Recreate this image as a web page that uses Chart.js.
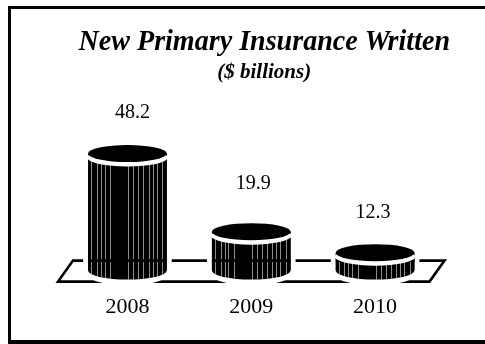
<!DOCTYPE html>
<html>
<head>
<meta charset="utf-8">
<script src="https://cdn.jsdelivr.net/npm/chart.js@4/dist/chart.umd.min.js"></script>
<style>
  html, body { margin: 0; padding: 0; background: #fff; overflow: hidden; }
  #page { position: relative; width: 485px; height: 344px; }
  #frame { position: absolute; left: 8px; top: 6px; right: 0; bottom: 0;
           border: solid #000; border-width: 3px 0 4px 3px; }
  canvas { position: absolute; left: 0; top: 0; }
</style>
</head>
<body>
<div id="page">
  <div id="frame"></div>
  <canvas id="chart" width="485" height="344"></canvas>
</div>
<script>
const categories = ['2008', '2009', '2010'];
const premiumWritten = [48.2, 19.9, 12.3];
const valueLabels = ['48.2', '19.9', '12.3'];
const titleText = 'New Primary Insurance Written';
const subtitleText = '($ billions)';

// The value axis starts above zero, as the cylinders rise from a raised floor.
const axisFloor = 5.8;
const axisCeiling = 70;

const SERIF = '"Liberation Serif", "Times New Roman", serif';
const RIB_STOPS = [0.04, 0.11, 0.16, 0.21, 0.28, 0.51, 0.57, 0.64, 0.70, 0.77, 0.82, 0.87, 0.94];
const LABEL_LIFT = [41, 48, 40];
const LABEL_SHIFT = [5, 2, -2];

function platformPath(ctx, area, baseY) {
  const slant = 7.5, up = 10, down = 11;
  ctx.beginPath();
  ctx.moveTo(area.left + slant, baseY - up);
  ctx.lineTo(area.right + slant, baseY - up);
  ctx.lineTo(area.right - slant, baseY + down);
  ctx.lineTo(area.left - slant, baseY + down);
  ctx.closePath();
}

const cylinders = {
  id: 'cylinders',
  afterLayout(chart) {
    // Centre both headings over the drawing rather than over the canvas.
    for (const box of chart.boxes) {
      if (box.options && box.options.text) { box.left += 13; box.right += 13; }
    }
  },
  beforeDatasetsDraw(chart) {
    const { ctx, chartArea, scales } = chart;
    const baseY = scales.y.getPixelForValue(axisFloor);
    ctx.save();
    ctx.strokeStyle = '#000';
    ctx.lineWidth = 2.6;
    ctx.lineJoin = 'miter';
    platformPath(ctx, chartArea, baseY);
    ctx.stroke();
    // White halo that separates each cylinder from the platform outline.
    ctx.fillStyle = '#fff';
    chart.getDatasetMeta(0).data.forEach((bar) => {
      const half = bar.width / 2 + 5;
      ctx.fillRect(bar.x - half, bar.y, half * 2, baseY - bar.y);
      ctx.beginPath();
      ctx.ellipse(bar.x, baseY, half, 15, 0, 0, Math.PI * 2);
      ctx.fill();
    });
    ctx.restore();
  },
  afterDatasetsDraw(chart) {
    const { ctx, chartArea, scales } = chart;
    const baseY = scales.y.getPixelForValue(axisFloor);
    chart.getDatasetMeta(0).data.forEach((bar, i) => {
      const half = bar.width / 2;
      const left = bar.x - half;

      ctx.save();
      ctx.beginPath();
      ctx.ellipse(bar.x, baseY, half, 9, 0, 0, Math.PI);
      ctx.lineTo(left, bar.y);
      ctx.lineTo(left + bar.width, bar.y);
      ctx.closePath();
      ctx.fillStyle = '#000';
      ctx.fill();
      ctx.clip();

      // Vertical ribs, crowded towards the edges of the drum.
      ctx.strokeStyle = 'rgba(255,255,255,0.55)';
      ctx.lineWidth = 1;
      RIB_STOPS.forEach((stop) => {
        const x = Math.round(left + stop * bar.width) + 0.5;
        ctx.beginPath();
        ctx.moveTo(x, bar.y);
        ctx.lineTo(x, baseY + 10);
        ctx.stroke();
      });

      // The platform's back edge stays visible across the ribs.
      ctx.strokeStyle = '#000';
      ctx.lineWidth = 2.6;
      platformPath(ctx, chartArea, baseY);
      ctx.stroke();
      ctx.restore();

      // Lid with its white rim.
      ctx.save();
      ctx.fillStyle = '#fff';
      ctx.beginPath();
      ctx.ellipse(bar.x, bar.y + 4, half + 1, 9, 0, 0, Math.PI * 2);
      ctx.fill();
      ctx.fillStyle = '#000';
      ctx.beginPath();
      ctx.ellipse(bar.x, bar.y, half, 8.5, 0, 0, Math.PI * 2);
      ctx.fill();

      // Value above the cylinder.
      ctx.font = '20px ' + SERIF;
      ctx.textAlign = 'center';
      ctx.textBaseline = 'middle';
      ctx.fillText(valueLabels[i], bar.x + LABEL_SHIFT[i], bar.y - LABEL_LIFT[i]);
      ctx.restore();
    });
  }
};

new Chart(document.getElementById('chart'), {
  type: 'bar',
  data: {
    labels: categories,
    datasets: [{
      data: premiumWritten,
      backgroundColor: '#000',
      borderWidth: 0,
      categoryPercentage: 1,
      barPercentage: 0.635
    }]
  },
  plugins: [cylinders],
  options: {
    responsive: false,
    animation: false,
    layout: { padding: { left: 65.5, right: 48, top: 0, bottom: 1 } },
    plugins: {
      legend: { display: false },
      tooltip: { enabled: false },
      title: {
        display: true,
        text: titleText,
        color: '#000',
        font: { family: SERIF, size: 29.3, weight: 'bold', style: 'italic' },
        padding: { top: 24.4, bottom: 0.5 }
      },
      subtitle: {
        display: true,
        text: subtitleText,
        color: '#000',
        font: { family: SERIF, size: 21, weight: 'bold', style: 'italic' },
        padding: { top: 0, bottom: 8.1 }
      }
    },
    scales: {
      x: {
        grid: { display: false, drawTicks: false },
        border: { display: false },
        ticks: { color: '#000', padding: 23, maxRotation: 0, autoSkip: false,
                 font: { family: SERIF, size: 22 } }
      },
      y: { display: false, min: axisFloor, max: axisCeiling }
    }
  }
});
</script>
</body>
</html>
